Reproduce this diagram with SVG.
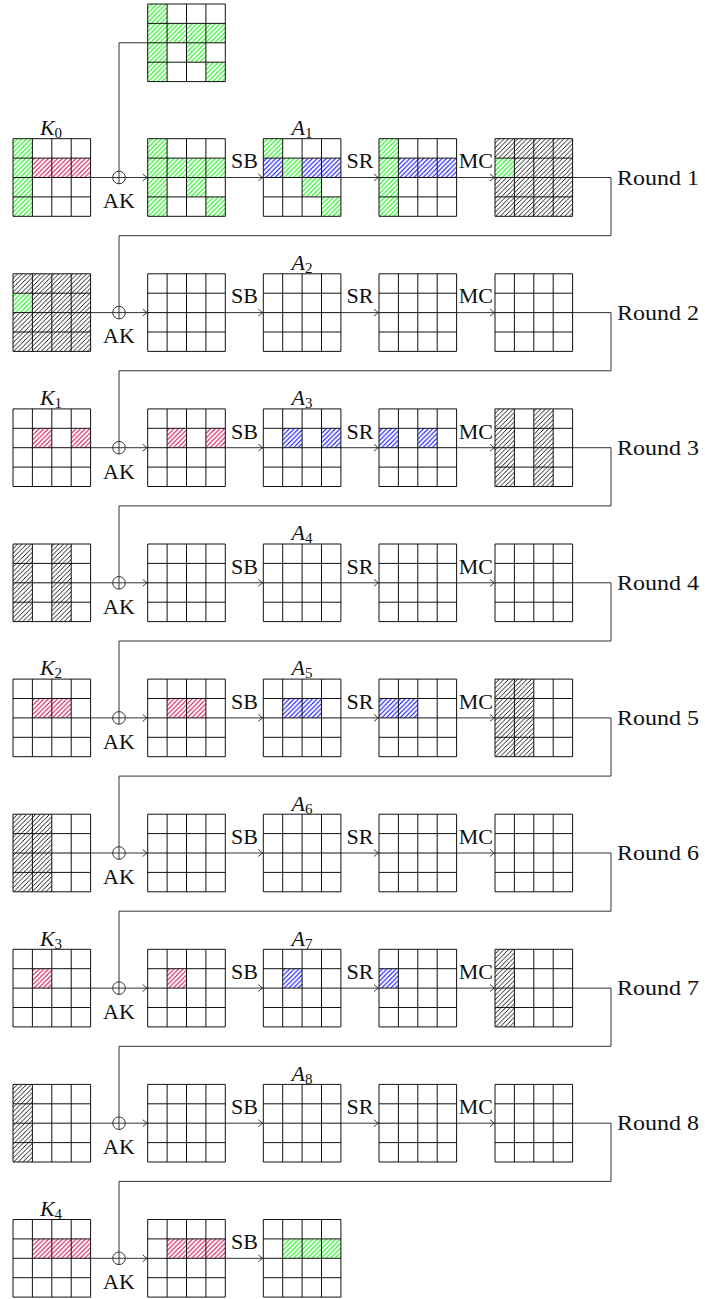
<svg xmlns="http://www.w3.org/2000/svg" xmlns:xlink="http://www.w3.org/1999/xlink" width="705" height="1299" viewBox="0 0 705 1299">
<style>
.ln{fill:none;stroke:#333;stroke-width:1}
.gr{fill:none;stroke:#111;stroke-width:1}
.g{fill:url(#pg)} .r{fill:url(#pr)} .b{fill:url(#pb)} .k{fill:url(#pk)}
.t{font-family:"Liberation Serif","DejaVu Serif",serif;font-size:22px;fill:#111}
.m{text-anchor:middle}
.sub{font-size:15px}
</style>
<defs>
<pattern id="pg" patternUnits="userSpaceOnUse" width="4.6" height="4.6"><path d="M-1,1L1,-1M0,4.6L4.6,0M3.6,5.6L5.6,3.6" stroke="#00f000" stroke-width="1"/></pattern>
<pattern id="pr" patternUnits="userSpaceOnUse" width="4.6" height="4.6"><path d="M-1,1L1,-1M0,4.6L4.6,0M3.6,5.6L5.6,3.6" stroke="#d0004c" stroke-width="1"/></pattern>
<pattern id="pb" patternUnits="userSpaceOnUse" width="4.6" height="4.6"><path d="M-1,1L1,-1M0,4.6L4.6,0M3.6,5.6L5.6,3.6" stroke="#0000ff" stroke-width="1"/></pattern>
<pattern id="pk" patternUnits="userSpaceOnUse" width="4.6" height="4.6"><path d="M-1,1L1,-1M0,4.6L4.6,0M3.6,5.6L5.6,3.6" stroke="#000" stroke-width="0.9"/></pattern>
<path id="grid" class="gr" d="M0,0H77.6V77.6H0Z M19.4,0V77.6 M38.8,0V77.6 M58.2,0V77.6 M0,19.4H77.6 M0,38.8H77.6 M0,58.2H77.6"/>
<marker id="ar" markerUnits="userSpaceOnUse" markerWidth="10" markerHeight="10" viewBox="-6 -5 7 10" refX="0" refY="0" orient="auto"><path d="M-4.5,-3.5Q-1.5,-0.8 0,0Q-1.5,0.8 -4.5,3.5" fill="none" stroke="#222" stroke-width="0.9"/></marker>
</defs>

<g id="connectors">
<path class="ln" d="M119,184 V42.8 H147.7"/>
<circle class="ln" cx="119" cy="177.5" r="6.3"/>
<path class="ln" d="M90.6,177.5 H147.2" marker-end="url(#ar)"/>
<path class="ln" d="M225.3,177.5 H262.8" marker-end="url(#ar)"/>
<path class="ln" d="M340.9,177.5 H378.5" marker-end="url(#ar)"/>
<path class="ln" d="M456.6,177.5 H494.5" marker-end="url(#ar)"/>
<path class="ln" d="M572.6,177.5 H611 V235.7 H119 V318.9"/>
<circle class="ln" cx="119" cy="312.6" r="6.3"/>
<path class="ln" d="M90.6,312.6 H147.2" marker-end="url(#ar)"/>
<path class="ln" d="M225.3,312.6 H262.8" marker-end="url(#ar)"/>
<path class="ln" d="M340.9,312.6 H378.5" marker-end="url(#ar)"/>
<path class="ln" d="M456.6,312.6 H494.5" marker-end="url(#ar)"/>
<path class="ln" d="M572.6,312.6 H611 V370.8 H119 V454"/>
<circle class="ln" cx="119" cy="447.7" r="6.3"/>
<path class="ln" d="M90.6,447.7 H147.2" marker-end="url(#ar)"/>
<path class="ln" d="M225.3,447.7 H262.8" marker-end="url(#ar)"/>
<path class="ln" d="M340.9,447.7 H378.5" marker-end="url(#ar)"/>
<path class="ln" d="M456.6,447.7 H494.5" marker-end="url(#ar)"/>
<path class="ln" d="M572.6,447.7 H611 V505.9 H119 V589.1"/>
<circle class="ln" cx="119" cy="582.8" r="6.3"/>
<path class="ln" d="M90.6,582.8 H147.2" marker-end="url(#ar)"/>
<path class="ln" d="M225.3,582.8 H262.8" marker-end="url(#ar)"/>
<path class="ln" d="M340.9,582.8 H378.5" marker-end="url(#ar)"/>
<path class="ln" d="M456.6,582.8 H494.5" marker-end="url(#ar)"/>
<path class="ln" d="M572.6,582.8 H611 V641 H119 V724.2"/>
<circle class="ln" cx="119" cy="717.9" r="6.3"/>
<path class="ln" d="M90.6,717.9 H147.2" marker-end="url(#ar)"/>
<path class="ln" d="M225.3,717.9 H262.8" marker-end="url(#ar)"/>
<path class="ln" d="M340.9,717.9 H378.5" marker-end="url(#ar)"/>
<path class="ln" d="M456.6,717.9 H494.5" marker-end="url(#ar)"/>
<path class="ln" d="M572.6,717.9 H611 V776.1 H119 V859.3"/>
<circle class="ln" cx="119" cy="853" r="6.3"/>
<path class="ln" d="M90.6,853 H147.2" marker-end="url(#ar)"/>
<path class="ln" d="M225.3,853 H262.8" marker-end="url(#ar)"/>
<path class="ln" d="M340.9,853 H378.5" marker-end="url(#ar)"/>
<path class="ln" d="M456.6,853 H494.5" marker-end="url(#ar)"/>
<path class="ln" d="M572.6,853 H611 V911.2 H119 V994.4"/>
<circle class="ln" cx="119" cy="988.1" r="6.3"/>
<path class="ln" d="M90.6,988.1 H147.2" marker-end="url(#ar)"/>
<path class="ln" d="M225.3,988.1 H262.8" marker-end="url(#ar)"/>
<path class="ln" d="M340.9,988.1 H378.5" marker-end="url(#ar)"/>
<path class="ln" d="M456.6,988.1 H494.5" marker-end="url(#ar)"/>
<path class="ln" d="M572.6,988.1 H611 V1046.3 H119 V1129.5"/>
<circle class="ln" cx="119" cy="1123.2" r="6.3"/>
<path class="ln" d="M90.6,1123.2 H147.2" marker-end="url(#ar)"/>
<path class="ln" d="M225.3,1123.2 H262.8" marker-end="url(#ar)"/>
<path class="ln" d="M340.9,1123.2 H378.5" marker-end="url(#ar)"/>
<path class="ln" d="M456.6,1123.2 H494.5" marker-end="url(#ar)"/>
<path class="ln" d="M572.6,1123.2 H611 V1181.4 H119 V1264.6"/>
<circle class="ln" cx="119" cy="1258.3" r="6.3"/>
<path class="ln" d="M90.6,1258.3 H147.2" marker-end="url(#ar)"/>
<path class="ln" d="M225.3,1258.3 H262.8" marker-end="url(#ar)"/>
</g>

<g id="labels" class="t">
<g class="m">
<text x="119" y="208.3">AK</text><text x="119" y="343.4">AK</text><text x="119" y="478.5">AK</text><text x="119" y="613.6">AK</text><text x="119" y="748.7">AK</text><text x="119" y="883.8">AK</text><text x="119" y="1018.9">AK</text><text x="119" y="1154">AK</text><text x="119" y="1289.1">AK</text>
<text x="244.5" y="168.3">SB</text><text x="244.5" y="303.4">SB</text><text x="244.5" y="438.5">SB</text><text x="244.5" y="573.6">SB</text><text x="244.5" y="708.7">SB</text><text x="244.5" y="843.8">SB</text><text x="244.5" y="978.9">SB</text><text x="244.5" y="1114">SB</text><text x="244.5" y="1249.1">SB</text>
<text x="360" y="168.3">SR</text><text x="360" y="303.4">SR</text><text x="360" y="438.5">SR</text><text x="360" y="573.6">SR</text><text x="360" y="708.7">SR</text><text x="360" y="843.8">SR</text><text x="360" y="978.9">SR</text><text x="360" y="1114">SR</text>
<text x="475.8" y="168.3">MC</text><text x="475.8" y="303.4">MC</text><text x="475.8" y="438.5">MC</text><text x="475.8" y="573.6">MC</text><text x="475.8" y="708.7">MC</text><text x="475.8" y="843.8">MC</text><text x="475.8" y="978.9">MC</text><text x="475.8" y="1114">MC</text>
<text x="51" y="135"><tspan font-style="italic">K</tspan><tspan class="sub" dy="3">0</tspan></text>
<text x="51" y="405.2"><tspan font-style="italic">K</tspan><tspan class="sub" dy="3">1</tspan></text>
<text x="51" y="675.4"><tspan font-style="italic">K</tspan><tspan class="sub" dy="3">2</tspan></text>
<text x="51" y="945.6"><tspan font-style="italic">K</tspan><tspan class="sub" dy="3">3</tspan></text>
<text x="51" y="1215.8"><tspan font-style="italic">K</tspan><tspan class="sub" dy="3">4</tspan></text>
<text x="302.1" y="135"><tspan font-style="italic">A</tspan><tspan class="sub" dy="3">1</tspan></text>
<text x="302.1" y="270.1"><tspan font-style="italic">A</tspan><tspan class="sub" dy="3">2</tspan></text>
<text x="302.1" y="405.2"><tspan font-style="italic">A</tspan><tspan class="sub" dy="3">3</tspan></text>
<text x="302.1" y="540.3"><tspan font-style="italic">A</tspan><tspan class="sub" dy="3">4</tspan></text>
<text x="302.1" y="675.4"><tspan font-style="italic">A</tspan><tspan class="sub" dy="3">5</tspan></text>
<text x="302.1" y="810.5"><tspan font-style="italic">A</tspan><tspan class="sub" dy="3">6</tspan></text>
<text x="302.1" y="945.6"><tspan font-style="italic">A</tspan><tspan class="sub" dy="3">7</tspan></text>
<text x="302.1" y="1080.7"><tspan font-style="italic">A</tspan><tspan class="sub" dy="3">8</tspan></text>
</g>
<text x="617" y="184.7" textLength="82" lengthAdjust="spacingAndGlyphs">Round 1</text>
<text x="617" y="319.8" textLength="82" lengthAdjust="spacingAndGlyphs">Round 2</text>
<text x="617" y="454.9" textLength="82" lengthAdjust="spacingAndGlyphs">Round 3</text>
<text x="617" y="590" textLength="82" lengthAdjust="spacingAndGlyphs">Round 4</text>
<text x="617" y="725.1" textLength="82" lengthAdjust="spacingAndGlyphs">Round 5</text>
<text x="617" y="860.2" textLength="82" lengthAdjust="spacingAndGlyphs">Round 6</text>
<text x="617" y="995.3" textLength="82" lengthAdjust="spacingAndGlyphs">Round 7</text>
<text x="617" y="1130.4" textLength="82" lengthAdjust="spacingAndGlyphs">Round 8</text>
</g>

<g id="r1-top" transform="translate(147.7,4)"><rect class="g" x="0" y="0" width="19.4" height="77.6"/><rect class="g" x="19.4" y="19.4" width="58.2" height="19.4"/><rect class="g" x="38.8" y="38.8" width="19.4" height="19.4"/><rect class="g" x="58.2" y="58.2" width="19.4" height="19.4"/><use href="#grid"/></g>
<g id="r1-key" transform="translate(13,138.7)"><rect class="g" x="0" y="0" width="19.4" height="77.6"/><rect class="r" x="19.4" y="19.4" width="58.2" height="19.4"/><use href="#grid"/></g>
<g id="r1-ak" transform="translate(147.7,138.7)"><rect class="g" x="0" y="0" width="19.4" height="77.6"/><rect class="g" x="19.4" y="19.4" width="58.2" height="19.4"/><rect class="g" x="38.8" y="38.8" width="19.4" height="19.4"/><rect class="g" x="58.2" y="58.2" width="19.4" height="19.4"/><use href="#grid"/></g>
<g id="r1-sb" transform="translate(263.3,138.7)"><rect class="g" x="0" y="0" width="19.4" height="19.4"/><rect class="b" x="0" y="19.4" width="19.4" height="19.4"/><rect class="g" x="19.4" y="19.4" width="19.4" height="19.4"/><rect class="b" x="38.8" y="19.4" width="38.8" height="19.4"/><rect class="g" x="38.8" y="38.8" width="19.4" height="19.4"/><rect class="g" x="58.2" y="58.2" width="19.4" height="19.4"/><use href="#grid"/></g>
<g id="r1-sr" transform="translate(379,138.7)"><rect class="g" x="0" y="0" width="19.4" height="77.6"/><rect class="b" x="19.4" y="19.4" width="58.2" height="19.4"/><use href="#grid"/></g>
<g id="r1-mc" transform="translate(495,138.7)"><rect class="k" x="19.4" y="0" width="58.2" height="77.6"/><rect class="k" x="0" y="0" width="19.4" height="19.4"/><rect class="k" x="0" y="38.8" width="19.4" height="38.8"/><rect class="g" x="0" y="19.4" width="19.4" height="19.4"/><use href="#grid"/></g>

<g id="r2-key" transform="translate(13,273.8)"><rect class="k" x="19.4" y="0" width="58.2" height="77.6"/><rect class="k" x="0" y="0" width="19.4" height="19.4"/><rect class="k" x="0" y="38.8" width="19.4" height="38.8"/><rect class="g" x="0" y="19.4" width="19.4" height="19.4"/><use href="#grid"/></g>
<g id="r2-ak" transform="translate(147.7,273.8)"><use href="#grid"/></g>
<g id="r2-sb" transform="translate(263.3,273.8)"><use href="#grid"/></g>
<g id="r2-sr" transform="translate(379,273.8)"><use href="#grid"/></g>
<g id="r2-mc" transform="translate(495,273.8)"><use href="#grid"/></g>

<g id="r3-key" transform="translate(13,408.9)"><rect class="r" x="19.4" y="19.4" width="19.4" height="19.4"/><rect class="r" x="58.2" y="19.4" width="19.4" height="19.4"/><use href="#grid"/></g>
<g id="r3-ak" transform="translate(147.7,408.9)"><rect class="r" x="19.4" y="19.4" width="19.4" height="19.4"/><rect class="r" x="58.2" y="19.4" width="19.4" height="19.4"/><use href="#grid"/></g>
<g id="r3-sb" transform="translate(263.3,408.9)"><rect class="b" x="19.4" y="19.4" width="19.4" height="19.4"/><rect class="b" x="58.2" y="19.4" width="19.4" height="19.4"/><use href="#grid"/></g>
<g id="r3-sr" transform="translate(379,408.9)"><rect class="b" x="0" y="19.4" width="19.4" height="19.4"/><rect class="b" x="38.8" y="19.4" width="19.4" height="19.4"/><use href="#grid"/></g>
<g id="r3-mc" transform="translate(495,408.9)"><rect class="k" x="0" y="0" width="19.4" height="77.6"/><rect class="k" x="38.8" y="0" width="19.4" height="77.6"/><use href="#grid"/></g>

<g id="r4-key" transform="translate(13,544)"><rect class="k" x="0" y="0" width="19.4" height="77.6"/><rect class="k" x="38.8" y="0" width="19.4" height="77.6"/><use href="#grid"/></g>
<g id="r4-ak" transform="translate(147.7,544)"><use href="#grid"/></g>
<g id="r4-sb" transform="translate(263.3,544)"><use href="#grid"/></g>
<g id="r4-sr" transform="translate(379,544)"><use href="#grid"/></g>
<g id="r4-mc" transform="translate(495,544)"><use href="#grid"/></g>

<g id="r5-key" transform="translate(13,679.1)"><rect class="r" x="19.4" y="19.4" width="38.8" height="19.4"/><use href="#grid"/></g>
<g id="r5-ak" transform="translate(147.7,679.1)"><rect class="r" x="19.4" y="19.4" width="38.8" height="19.4"/><use href="#grid"/></g>
<g id="r5-sb" transform="translate(263.3,679.1)"><rect class="b" x="19.4" y="19.4" width="38.8" height="19.4"/><use href="#grid"/></g>
<g id="r5-sr" transform="translate(379,679.1)"><rect class="b" x="0" y="19.4" width="38.8" height="19.4"/><use href="#grid"/></g>
<g id="r5-mc" transform="translate(495,679.1)"><rect class="k" x="0" y="0" width="38.8" height="77.6"/><use href="#grid"/></g>

<g id="r6-key" transform="translate(13,814.2)"><rect class="k" x="0" y="0" width="38.8" height="77.6"/><use href="#grid"/></g>
<g id="r6-ak" transform="translate(147.7,814.2)"><use href="#grid"/></g>
<g id="r6-sb" transform="translate(263.3,814.2)"><use href="#grid"/></g>
<g id="r6-sr" transform="translate(379,814.2)"><use href="#grid"/></g>
<g id="r6-mc" transform="translate(495,814.2)"><use href="#grid"/></g>

<g id="r7-key" transform="translate(13,949.3)"><rect class="r" x="19.4" y="19.4" width="19.4" height="19.4"/><use href="#grid"/></g>
<g id="r7-ak" transform="translate(147.7,949.3)"><rect class="r" x="19.4" y="19.4" width="19.4" height="19.4"/><use href="#grid"/></g>
<g id="r7-sb" transform="translate(263.3,949.3)"><rect class="b" x="19.4" y="19.4" width="19.4" height="19.4"/><use href="#grid"/></g>
<g id="r7-sr" transform="translate(379,949.3)"><rect class="b" x="0" y="19.4" width="19.4" height="19.4"/><use href="#grid"/></g>
<g id="r7-mc" transform="translate(495,949.3)"><rect class="k" x="0" y="0" width="19.4" height="77.6"/><use href="#grid"/></g>

<g id="r8-key" transform="translate(13,1084.4)"><rect class="k" x="0" y="0" width="19.4" height="77.6"/><use href="#grid"/></g>
<g id="r8-ak" transform="translate(147.7,1084.4)"><use href="#grid"/></g>
<g id="r8-sb" transform="translate(263.3,1084.4)"><use href="#grid"/></g>
<g id="r8-sr" transform="translate(379,1084.4)"><use href="#grid"/></g>
<g id="r8-mc" transform="translate(495,1084.4)"><use href="#grid"/></g>

<g id="r9-key" transform="translate(13,1219.5)"><rect class="r" x="19.4" y="19.4" width="58.2" height="19.4"/><use href="#grid"/></g>
<g id="r9-ak" transform="translate(147.7,1219.5)"><rect class="r" x="19.4" y="19.4" width="58.2" height="19.4"/><use href="#grid"/></g>
<g id="r9-sb" transform="translate(263.3,1219.5)"><rect class="g" x="19.4" y="19.4" width="58.2" height="19.4"/><use href="#grid"/></g>
</svg>
